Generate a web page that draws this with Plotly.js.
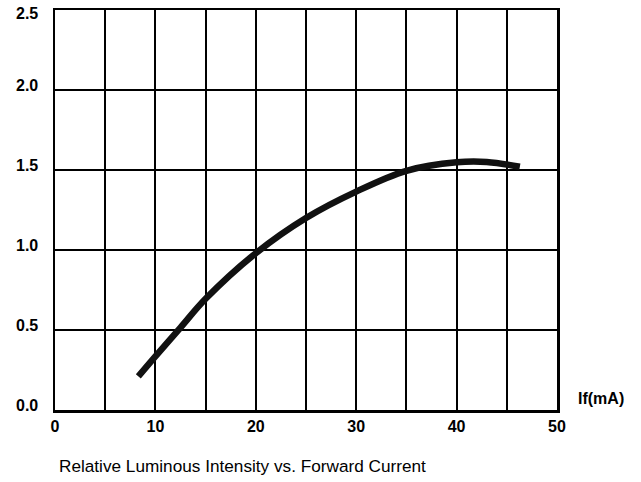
<!DOCTYPE html>
<html>
<head>
<meta charset="utf-8">
<script src="https://cdn.plot.ly/plotly-3.0.1.min.js"></script>
<style>html,body{margin:0;padding:0;background:#fff;}#chart{width:641px;height:482px;}</style>
</head>
<body>
<div id="chart"></div>
<script>
// Data
const currentMA = [8.3, 10, 12.5, 15, 20, 25, 30, 35, 40, 43, 46.3];
const relIntensity = [0.21, 0.335, 0.515, 0.695, 0.98, 1.2, 1.365, 1.495, 1.548, 1.55, 1.52];
const xGridVals = [0, 5, 10, 15, 20, 25, 30, 35, 40, 45, 50];
const xTickText = ['0', '', '10', '', '20', '', '30', '', '40', '', '50'];
const yTickVals = [0, 0.5, 1.0, 1.5, 2.0, 2.5];
const yTickText = ['0.0', '0.5', '1.0', '1.5', '2.0', '2.5'];
const chartTitle = 'Relative Luminous Intensity vs. Forward Current';
const xUnitLabel = 'If(mA)';

const FONT = 'Liberation Sans, Arial, sans-serif';

const trace = {
  x: currentMA, y: relIntensity, type: 'scatter', mode: 'lines',
  line: {color: '#111111', width: 6.5, shape: 'spline', smoothing: 1.0},
  hoverinfo: 'skip'
};

const annotations = yTickVals.map((v, i) => ({
  xref: 'paper', yref: 'y', x: -0.03, y: v,
  xanchor: 'right', yanchor: 'middle',
  yshift: (v === 2.5 ? -3 : 5),
  text: yTickText[i], showarrow: false,
  font: {family: FONT, size: 16, color: '#000', weight: 'bold'}
}));
annotations.push({
  xref: 'paper', yref: 'paper', x: 1.038, y: 0.03,
  xanchor: 'left', yanchor: 'middle',
  text: xUnitLabel, showarrow: false,
  font: {family: FONT, size: 16, color: '#000', weight: 'bold'}
});
annotations.push({
  xref: 'paper', yref: 'paper', x: 0.004, y: -0.14,
  xanchor: 'left', yanchor: 'middle',
  text: chartTitle, showarrow: false,
  font: {family: FONT, size: 17.2, color: '#000'}
});

const layout = {
  width: 641, height: 482,
  margin: {l: 55, r: 84, t: 10, b: 72},
  paper_bgcolor: '#fff', plot_bgcolor: '#fff',
  showlegend: false,
  xaxis: {
    range: [0, 50], tickmode: 'array', tickvals: xGridVals, ticktext: xTickText,
    showgrid: true, gridcolor: '#000', gridwidth: 2,
    zeroline: false, showline: true, linecolor: '#000', linewidth: 2.5, mirror: true,
    ticks: '', ticklabelstandoff: 0,
    tickfont: {family: FONT, size: 16, color: '#000', weight: 'bold'},
    fixedrange: true
  },
  yaxis: {
    range: [0, 2.5], tickmode: 'array', tickvals: yTickVals,
    showticklabels: false,
    showgrid: true, gridcolor: '#000', gridwidth: 2,
    zeroline: false, showline: true, linecolor: '#000', linewidth: 2.5, mirror: true,
    ticks: '', fixedrange: true
  },
  annotations: annotations
};

Plotly.newPlot('chart', [trace], layout, {displayModeBar: false, staticPlot: true});
</script>
</body>
</html>
